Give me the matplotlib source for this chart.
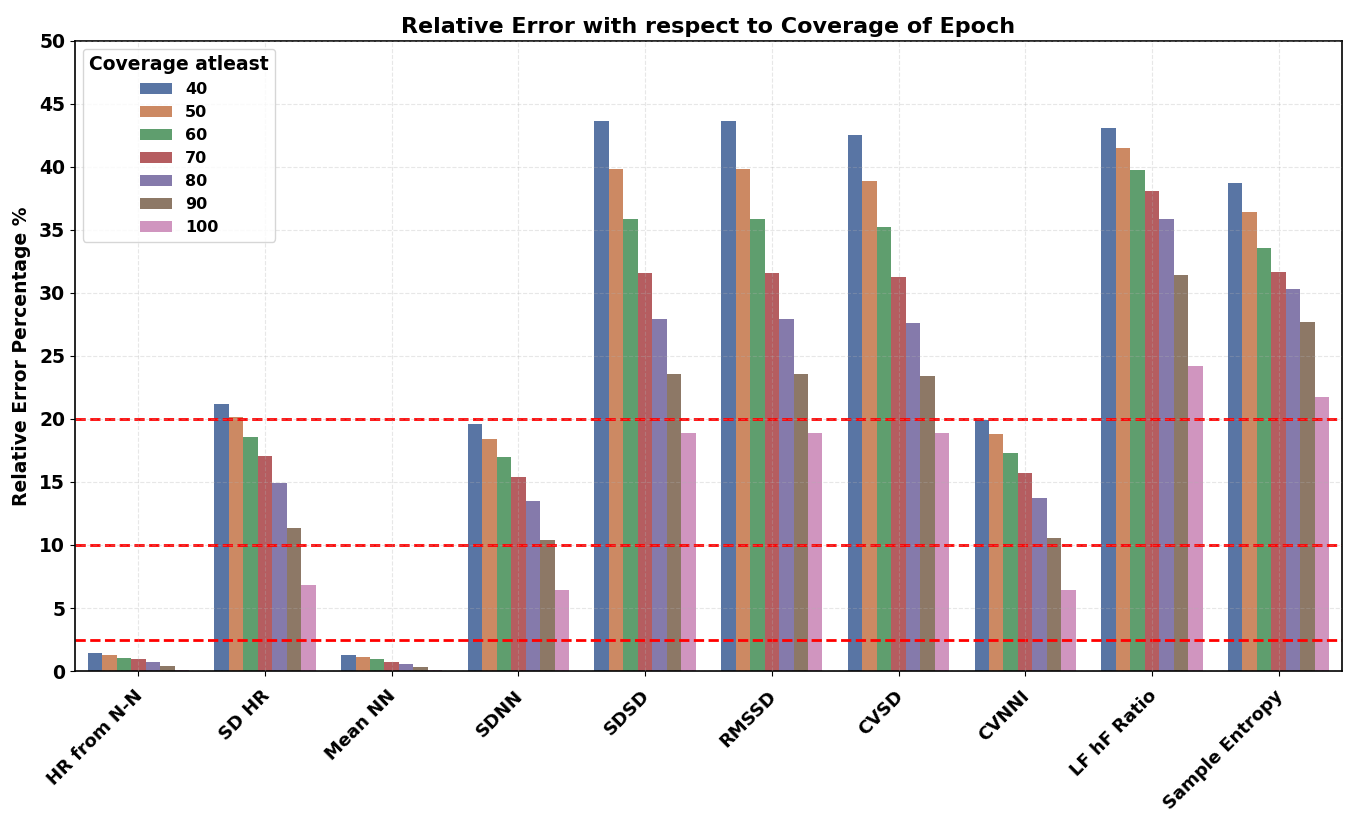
import numpy as np
import seaborn as sns
import matplotlib.transforms as mtransforms
from matplotlib import pyplot as plt

# Data
features = ['HR from N-N', 'SD HR', 'Mean NN', 'SDNN', 'SDSD', 'RMSSD',
            'CVSD', 'CVNNI', 'LF hF Ratio', 'Sample Entropy']
coverage = ['40', '50', '60', '70', '80', '90', '100']

cov_40 = [1.45, 21.2, 1.3, 19.58, 43.67, 43.67, 42.5, 19.95, 43.07, 38.7]
cov_50 = [1.3, 20.13, 1.11, 18.44, 39.8, 39.8, 38.9, 18.78, 41.53, 36.45]
cov_60 = [1.06, 18.6, 0.93, 16.98, 35.85, 35.85, 35.2, 17.33, 39.76, 33.6]
cov_70 = [0.93, 17.04, 0.74, 15.4, 31.6, 31.6, 31.3, 15.71, 38.07, 31.64]
cov_80 = [0.71, 14.92, 0.58, 13.47, 27.9, 27.9, 27.65, 13.7, 35.85, 30.29]
cov_90 = [0.42, 11.35, 0.34, 10.37, 23.57, 23.57, 23.4, 10.53, 31.45, 27.67]
cov_100 = [0.1, 6.8, 0.1, 6.43, 18.86, 18.86, 18.86, 6.4, 24.18, 21.75]
series = [cov_40, cov_50, cov_60, cov_70, cov_80, cov_90, cov_100]

thresholds = [20, 10, 2.5]

# seaborn barplot style colours (deep palette, saturation 0.75)
colors = [sns.desaturate(c, 0.75) for c in sns.color_palette('deep', len(coverage))]
plt.rcParams['font.weight'] = 'bold'

fig, ax = plt.subplots(figsize=(13.51, 8.19), dpi=100)
fig.subplots_adjust(left=0.0555, right=0.9933, top=0.95, bottom=0.1807)

x = np.arange(len(features))
w = 0.8 / len(coverage)
for i, vals in enumerate(series):
    ax.bar(x - 0.4 + w * (i + 0.5), vals, width=w, color=colors[i],
           label=coverage[i])

for t in thresholds:
    ax.axhline(t, color='red', linestyle='--', linewidth=2)

ax.set_xlim(-0.5, len(features) - 0.5)
ax.set_ylim(0, 50)
ax.set_yticks(np.arange(0, 51, 5))
ax.set_xticks(x)
ax.set_xticklabels(features, rotation=45, ha='right', fontsize=13,
                   fontweight='bold')
ax.tick_params(axis='y', labelsize=13.5)
ax.tick_params(axis='x', pad=8)

# nudge rotated labels a bit to the right
shift = mtransforms.ScaledTranslation(8 / 100, 0, fig.dpi_scale_trans)
for lab in ax.get_xticklabels():
    lab.set_transform(lab.get_transform() + shift)

ax.grid(True, linestyle='--', alpha=0.3)
ax.set_axisbelow(False)

for s in ax.spines.values():
    s.set_linewidth(1.2)

ax.set_ylabel('Relative Error Percentage %', fontsize=13.5, fontweight='bold',
              labelpad=6)
ax.set_title('Relative Error with respect to Coverage of Epoch', fontsize=16,
             fontweight='bold')

leg = ax.legend(title='Coverage atleast', loc='upper left', fontsize=11.5,
                title_fontproperties={'weight': 'bold', 'size': 13.5})

plt.savefig('out.png')
